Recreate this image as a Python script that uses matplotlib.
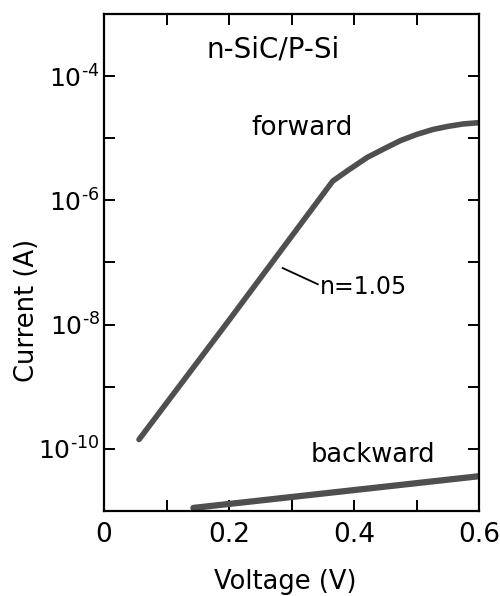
import matplotlib
matplotlib.use("Agg")
import matplotlib.pyplot as plt

# ---- data ----
forward_v = [0.056, 0.20, 0.366, 0.39, 0.421, 0.45, 0.474, 0.50, 0.526, 0.55, 0.575, 0.60]
forward_logi = [-9.85, -7.93, -5.69, -5.52, -5.31, -5.16, -5.04, -4.94, -4.86, -4.81, -4.77, -4.75]
backward_v = [0.143, 0.60]
backward_logi = [-10.95, -10.44]

x_tick_labels = ["0", "0.2", "0.4", "0.6"]
x_tick_pos = [0.0, 0.2, 0.4, 0.6]
x_minor_pos = [0.1, 0.3, 0.5]
y_label_exps = [-10, -8, -6, -4]
y_all_exps = list(range(-11, -2))

forward_i = [10.0 ** e for e in forward_logi]
backward_i = [10.0 ** e for e in backward_logi]

plt.rcParams["mathtext.fontset"] = "dejavusans"
plt.rcParams["font.family"] = ["DejaVu Sans"]

fig = plt.figure(figsize=(5.0, 5.96), dpi=100)
ax = fig.add_axes([0.208, 0.1426, 0.75, 0.834])

col = "#4f4f4f"
ax.plot(forward_v, forward_i, color=col, lw=4.0, solid_capstyle="round", solid_joinstyle="round")
ax.plot(backward_v, backward_i, color=col, lw=4.5, solid_capstyle="round")

ax.set_yscale("log")
ax.set_xlim(0, 0.6)
ax.set_ylim(1e-11, 1e-3)

ax.set_xticks(x_tick_pos + x_minor_pos)
ax.set_xticklabels(x_tick_labels + [""] * len(x_minor_pos), fontsize=19)
ytv = [10.0 ** e for e in y_all_exps]
ax.set_yticks(ytv)
ax.set_yticklabels([(r"$10^{\text{-}%d}$" % (-e)) if e in y_label_exps else "" for e in y_all_exps],
                   fontsize=18)
ax.minorticks_off()
ax.tick_params(axis="both", which="major", direction="in", length=8, width=1.4,
               top=True, right=True, labelcolor="black")
ax.tick_params(axis="x", pad=8)
ax.tick_params(axis="y", pad=3)

for s in ax.spines.values():
    s.set_linewidth(1.6)

ax.set_xlabel("Voltage (V)", fontsize=18.5, va="center")
ax.set_ylabel("Current (A)", fontsize=18.5, va="center")
ax.xaxis.set_label_coords(0.483, -0.143)
ax.yaxis.set_label_coords(-0.205, 0.404)

ax.text(0.27, 10 ** -3.58, "n-SiC/P-Si", fontsize=20, ha="center", va="center")
ax.text(0.317, 10 ** -4.84, "forward", fontsize=19, ha="center", va="center")
ax.text(0.43, 10 ** -10.1, "backward", fontsize=18.5, ha="center", va="center")
ax.text(0.346, 10 ** -7.40, "n=1.05", fontsize=17, ha="left", va="center")
ax.plot([0.286, 0.342], [10 ** -7.09, 10 ** -7.35], color="black", lw=1.3)

fig.savefig("out.png", dpi=100)
